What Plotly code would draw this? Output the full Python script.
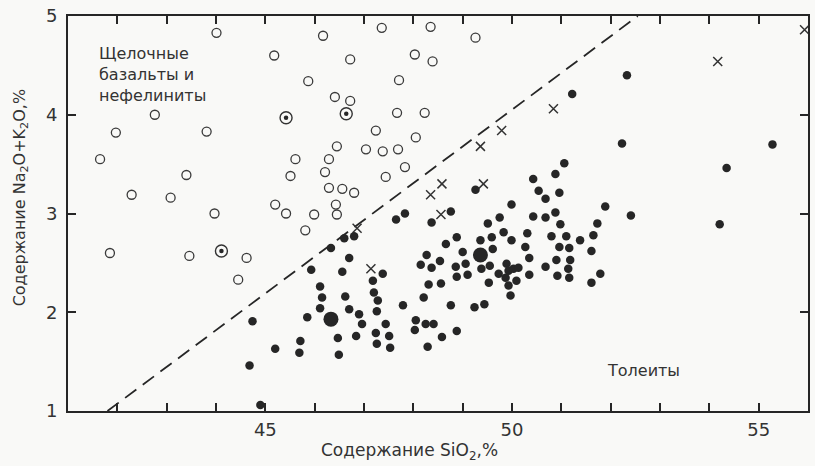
import plotly.graph_objects as go

# ---- data (SiO2 %, Na2O+K2O %) ----
alkaline_x = [44.01, 45.18, 42.76, 41.97, 43.81, 41.65, 45.61, 43.40, 45.51, 42.29,
              43.08, 43.97, 45.20, 45.42, 41.85, 43.46, 44.62, 44.45, 46.17, 46.72,
              45.87, 46.41, 46.72, 47.24, 46.45, 47.04, 46.29, 46.21, 46.29, 46.56,
              46.80, 46.43, 45.99, 46.45, 45.81, 47.36, 48.35, 49.26, 48.03, 48.39,
              47.71, 47.67, 48.23, 48.05, 47.38, 47.69, 47.83, 47.44]
alkaline_y = [4.83, 4.60, 4.00, 3.82, 3.83, 3.55, 3.55, 3.39, 3.38, 3.19,
              3.16, 3.00, 3.09, 3.00, 2.60, 2.57, 2.55, 2.33, 4.80, 4.56,
              4.34, 4.18, 4.14, 3.84, 3.68, 3.65, 3.55, 3.42, 3.26, 3.25,
              3.21, 3.09, 2.99, 2.99, 2.83, 4.88, 4.89, 4.78, 4.61, 4.54,
              4.35, 4.02, 4.02, 3.77, 3.63, 3.65, 3.47, 3.37]

dotted_x = [45.42, 46.64, 44.11]
dotted_y = [3.97, 4.01, 2.62]

cross_x = [55.93, 54.17, 50.84, 49.79, 49.36, 48.58, 48.35, 49.42, 48.56, 46.86, 47.14]
cross_y = [4.86, 4.54, 4.06, 3.84, 3.68, 3.30, 3.19, 3.30, 2.99, 2.85, 2.44]

tholeiite_x = [44.74, 45.20, 44.68, 44.90, 46.33, 46.60, 46.80, 46.70, 45.93, 46.56,
               47.38, 47.18, 46.11, 46.15, 46.62, 47.20, 47.28, 46.11, 46.70, 46.90,
               47.26, 45.85, 46.96, 47.44, 46.47, 46.84, 47.24, 47.51, 45.71, 47.26,
               47.53, 45.69, 46.49, 47.79, 48.05, 48.25, 48.41, 48.03, 48.58, 48.88,
               48.29, 48.21, 48.31, 48.15, 48.37, 48.27, 48.37, 47.65, 47.83,
               48.54, 48.56, 48.66, 48.76, 48.76, 48.88, 49.00, 48.86, 49.06, 48.88,
               49.10, 49.24, 49.44, 49.26, 49.36, 49.59, 49.61, 49.51, 49.83, 49.75,
               49.99, 49.99, 49.38, 49.55, 49.53, 49.73, 49.89, 49.93, 49.87, 50.03,
               50.13, 50.09, 49.93, 49.97, 50.31, 50.27, 50.35, 50.35, 50.68, 50.43,
               50.68, 50.88, 50.43, 50.88, 51.06, 50.54, 50.68, 50.96, 50.98, 50.80,
               51.10, 51.38, 51.65, 50.96, 51.16, 51.61, 50.90, 51.18, 51.14, 50.92,
               51.16, 51.79, 51.61, 51.73, 51.89, 52.41, 52.23, 51.22, 52.33, 54.35,
               55.28, 54.21]
tholeiite_y = [1.91, 1.63, 1.46, 1.06, 2.65, 2.75, 2.77, 2.55, 2.43, 2.41,
               2.39, 2.32, 2.26, 2.15, 2.16, 2.20, 2.12, 2.04, 2.03, 1.98,
               2.01, 1.95, 1.88, 1.88, 1.74, 1.76, 1.79, 1.76, 1.71, 1.68,
               1.64, 1.59, 1.57, 2.07, 1.92, 1.88, 1.88, 1.82, 1.75, 1.81,
               1.65, 2.15, 2.28, 2.48, 2.45, 2.58, 2.91, 2.94, 3.00,
               2.52, 2.29, 2.69, 3.02, 2.07, 2.76, 2.61, 2.46, 2.49, 2.36,
               2.38, 2.05, 2.08, 3.24, 2.73, 2.76, 2.64, 2.90, 2.81, 2.96,
               2.73, 3.09, 2.44, 2.47, 2.30, 2.39, 2.49, 2.42, 2.35, 2.44,
               2.45, 2.32, 2.27, 2.17, 2.80, 2.66, 2.55, 2.38, 2.46, 2.97,
               2.96, 3.01, 3.35, 3.40, 3.51, 3.23, 3.15, 3.21, 2.89, 2.77,
               2.77, 2.73, 2.78, 2.66, 2.65, 2.62, 2.53, 2.53, 2.44, 2.37,
               2.35, 2.39, 2.30, 2.90, 3.07, 2.98, 3.71, 4.21, 4.40, 3.46,
               3.70, 2.89]

mean_x = [46.33, 49.36]
mean_y = [1.93, 2.58]

boundary_x = [41.8, 52.55]
boundary_y = [1.0, 5.0]

x_tick_vals = [45, 50, 55]
x_tick_text = ["45", "50", "55"]
y_tick_vals = [1, 2, 3, 4, 5]
y_tick_text = ["1", "2", "3", "4", "5"]

INK = "#262626"
BG = "#f9f9f7"
FONT = "DejaVu Sans"

fig = go.Figure()

fig.add_trace(go.Scatter(x=boundary_x, y=boundary_y, mode="lines",
                         line=dict(color=INK, width=1.8, dash="14px,8px"),
                         hoverinfo="skip", showlegend=False))

fig.add_trace(go.Scatter(x=alkaline_x, y=alkaline_y, mode="markers",
                         marker=dict(symbol="circle-open", size=9, color="#3a3a3a",
                                     line=dict(width=1.3, color="#3a3a3a")),
                         showlegend=False))

fig.add_trace(go.Scatter(x=dotted_x, y=dotted_y, mode="markers",
                         marker=dict(symbol="circle-open", size=12, color="#333",
                                     line=dict(width=1.4, color="#333")),
                         showlegend=False))
fig.add_trace(go.Scatter(x=dotted_x, y=dotted_y, mode="markers",
                         marker=dict(symbol="circle", size=4.5, color=INK, line=dict(width=0)),
                         showlegend=False))

fig.add_trace(go.Scatter(x=cross_x, y=cross_y, mode="markers",
                         marker=dict(symbol="x-thin-open", size=9, color="#333",
                                     line=dict(width=1.5, color="#333")),
                         showlegend=False))

fig.add_trace(go.Scatter(x=tholeiite_x, y=tholeiite_y, mode="markers",
                         marker=dict(symbol="circle", size=8.5, color=INK, line=dict(width=0)),
                         showlegend=False))

fig.add_trace(go.Scatter(x=mean_x, y=mean_y, mode="markers",
                         marker=dict(symbol="circle", size=15, color=INK, line=dict(width=0)),
                         showlegend=False))

axis_common = dict(showline=True, linewidth=2, linecolor=INK, mirror="ticks",
                   ticks="inside", ticklen=8, tickwidth=1.5, tickcolor=INK,
                   showgrid=False, zeroline=False,
                   tickfont=dict(family=FONT, size=18, color="#333"))

fig.update_xaxes(range=[41, 56], tickmode="array", tickvals=x_tick_vals,
                 ticktext=x_tick_text, ticklabelstandoff=1,
                 minor=dict(ticks="inside", dtick=1, tick0=41, ticklen=8,
                            tickwidth=1.5, tickcolor=INK, showgrid=False),
                 **axis_common)
fig.update_yaxes(range=[1, 5], tickmode="array", tickvals=y_tick_vals,
                 ticktext=y_tick_text, ticklabelstandoff=5, **axis_common)

fig.add_annotation(x=41.59, y=4.74, xref="x", yref="y", xanchor="left", yanchor="top",
                   align="left", showarrow=False,
                   text="Щелочные<br>базальты и<br>нефелиниты",
                   font=dict(family=FONT, size=16, color="#333"))
fig.add_annotation(x=51.89, y=1.41, xref="x", yref="y", xanchor="left", yanchor="middle",
                   showarrow=False, text="Толеиты",
                   font=dict(family=FONT, size=16, color="#333"))
fig.add_annotation(x=0.461, y=-0.103, xref="paper", yref="paper", xanchor="center",
                   yanchor="middle", showarrow=False,
                   text="Содержание SiO<sub>2</sub>,%",
                   font=dict(family=FONT, size=17, color="#333"))
fig.add_annotation(x=-0.064, y=0.54, xref="paper", yref="paper", xanchor="center",
                   yanchor="middle", showarrow=False, textangle=-90,
                   text="Содержание Na<sub>2</sub>O+K<sub>2</sub>O,%",
                   font=dict(family=FONT, size=16, color="#333"))

fig.update_layout(width=815, height=466, margin=dict(l=68, r=5, t=13, b=55),
                  paper_bgcolor=BG, plot_bgcolor=BG, showlegend=False)

fig.write_html("out.html")
